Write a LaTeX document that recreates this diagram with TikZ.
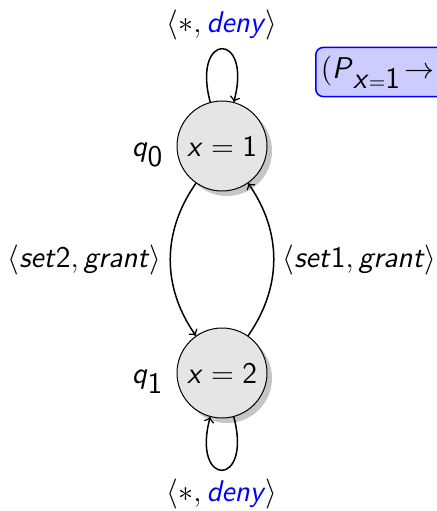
\documentclass[tikz,border=0pt]{standalone}
\usetikzlibrary{positioning,shadows}
\newcommand{\sv}[1]{\textsf{\textit{#1}}}
\newcommand{\sn}[1]{\textsf{#1}}
\begin{document}
\begin{tikzpicture}[x=0.4pt,y=-0.4pt]
		\tikzstyle{every node}=[font=\sffamily\fontsize{12pt}{14.5pt}\selectfont]
		\tikzstyle{zustand}=[circle, draw, fill=gray!20, minimum size=36pt, inner sep=0pt, drop shadow={shadow xshift=2pt, shadow yshift=-2pt, opacity=0.45}]
		\tikzstyle{kante}=[->, line width=0.6pt]
		\useasboundingbox (0,0) rectangle (436,511);
		\node [zustand] (q0) at (222,146) {$\sv{x}=\sn{1}$};
		\node [zustand] (q1) at (222,373) {$\sv{x}=\sn{2}$};
		\node [anchor=base east, inner sep=0pt] (q0name) at ([xshift=-5pt]q0.base -| q0.west) {$\sv{q}_{\sn{0}}$};
		\node [anchor=base east, inner sep=0pt] (q1name) at ([xshift=-5pt]q1.base -| q1.west) {$\sv{q}_{\sn{1}}$};
		\node [draw=blue, fill=blue!20, rounded corners=3pt, anchor=west, minimum height=18pt, minimum width=80pt, text width=76pt, inner xsep=2pt, align=left, line width=0.6pt] (prop) at (315,72) {$(\sv{P}_{\sv{x}=\sn{1}}\!\rightarrow$};
		\draw [kante] (q0) to [out=105, in=75, looseness=8] node [above] (top) {$\langle *, \textcolor{blue}{\sv{deny}}\rangle$} (q0);
		\draw [kante] (q1) to [out=-75, in=-105, looseness=8] node [below] (bottom) {$\langle *, \textcolor{blue}{\sv{deny}}\rangle$} (q1);
		\draw [kante] (q0) to [bend right=35] node [left] (set2) {$\langle \sv{set}\sn{2}, \sv{grant}\rangle$} (q1);
		\draw [kante] (q1) to [bend right=35] node [right] (set1) {$\langle \sv{set}\sn{1}, \sv{grant}\rangle$} (q0);
	\end{tikzpicture}
\end{document}
